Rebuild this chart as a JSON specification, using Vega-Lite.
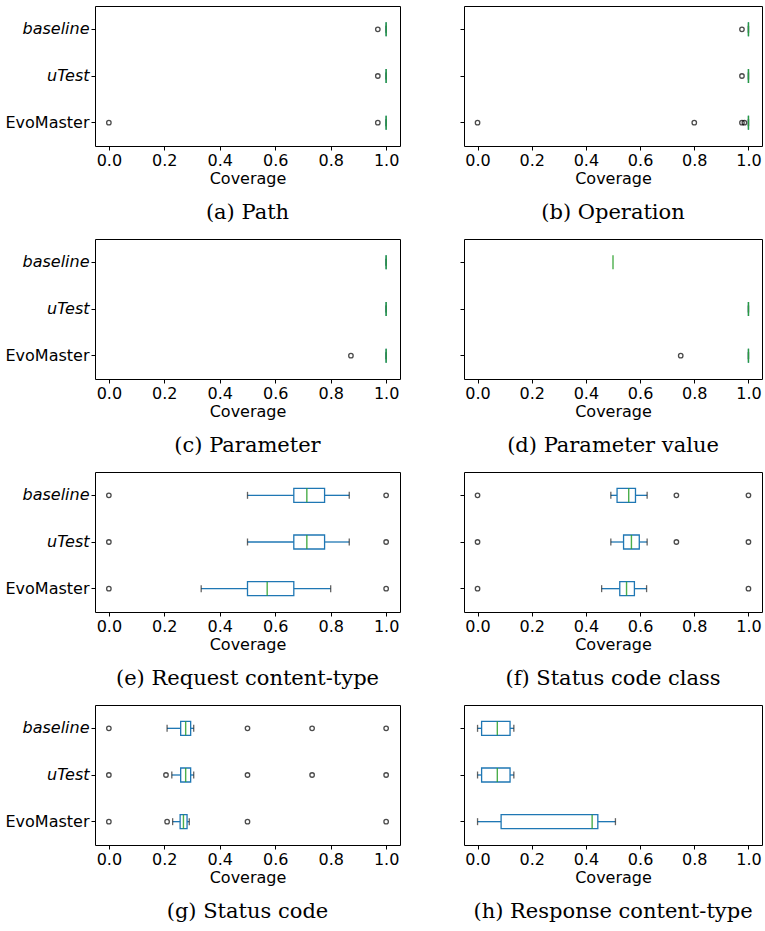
{
  "$schema": "https://vega.github.io/schema/vega-lite/v6.json",
  "padding": {"top": 5, "left": 4, "right": 0, "bottom": 0},
  "background": "white",
  "data": {"values": [
    {"p":"a","cat":"baseline","k":"box","lo":1,"q1":1,"med":1,"q3":1,"hi":1},
    {"p":"a","cat":"uTest","k":"box","lo":1,"q1":1,"med":1,"q3":1,"hi":1},
    {"p":"a","cat":"EvoMaster","k":"box","lo":1,"q1":1,"med":1,"q3":1,"hi":1},
    {"p":"a","cat":"baseline","k":"out","v":0.97},
    {"p":"a","cat":"uTest","k":"out","v":0.97},
    {"p":"a","cat":"EvoMaster","k":"out","v":0.0},
    {"p":"a","cat":"EvoMaster","k":"out","v":0.97},

    {"p":"b","cat":"baseline","k":"box","lo":1,"q1":1,"med":1,"q3":1,"hi":1},
    {"p":"b","cat":"uTest","k":"box","lo":1,"q1":1,"med":1,"q3":1,"hi":1},
    {"p":"b","cat":"EvoMaster","k":"box","lo":1,"q1":1,"med":1,"q3":1,"hi":1},
    {"p":"b","cat":"baseline","k":"out","v":0.976},
    {"p":"b","cat":"uTest","k":"out","v":0.976},
    {"p":"b","cat":"EvoMaster","k":"out","v":0.0},
    {"p":"b","cat":"EvoMaster","k":"out","v":0.8},
    {"p":"b","cat":"EvoMaster","k":"out","v":0.976},
    {"p":"b","cat":"EvoMaster","k":"out","v":0.985},

    {"p":"c","cat":"baseline","k":"box","lo":1,"q1":1,"med":1,"q3":1,"hi":1},
    {"p":"c","cat":"uTest","k":"box","lo":1,"q1":1,"med":1,"q3":1,"hi":1},
    {"p":"c","cat":"EvoMaster","k":"box","lo":1,"q1":1,"med":1,"q3":1,"hi":1},
    {"p":"c","cat":"EvoMaster","k":"out","v":0.873},

    {"p":"d","cat":"baseline","k":"box","lo":null,"q1":null,"med":0.5,"q3":null,"hi":null},
    {"p":"d","cat":"uTest","k":"box","lo":1,"q1":1,"med":1,"q3":1,"hi":1},
    {"p":"d","cat":"EvoMaster","k":"box","lo":1,"q1":1,"med":1,"q3":1,"hi":1},
    {"p":"d","cat":"EvoMaster","k":"out","v":0.75},

    {"p":"e","cat":"baseline","k":"box","lo":0.5,"q1":0.667,"med":0.714,"q3":0.778,"hi":0.867},
    {"p":"e","cat":"uTest","k":"box","lo":0.5,"q1":0.667,"med":0.714,"q3":0.778,"hi":0.867},
    {"p":"e","cat":"EvoMaster","k":"box","lo":0.333,"q1":0.5,"med":0.571,"q3":0.667,"hi":0.8},
    {"p":"e","cat":"baseline","k":"out","v":0.0},
    {"p":"e","cat":"baseline","k":"out","v":1.0},
    {"p":"e","cat":"uTest","k":"out","v":0.0},
    {"p":"e","cat":"uTest","k":"out","v":1.0},
    {"p":"e","cat":"EvoMaster","k":"out","v":0.0},
    {"p":"e","cat":"EvoMaster","k":"out","v":1.0},

    {"p":"f","cat":"baseline","k":"box","lo":0.492,"q1":0.515,"med":0.558,"q3":0.583,"hi":0.626},
    {"p":"f","cat":"uTest","k":"box","lo":0.492,"q1":0.539,"med":0.568,"q3":0.597,"hi":0.626},
    {"p":"f","cat":"EvoMaster","k":"box","lo":0.458,"q1":0.525,"med":0.55,"q3":0.579,"hi":0.624},
    {"p":"f","cat":"baseline","k":"out","v":0.0},
    {"p":"f","cat":"baseline","k":"out","v":0.734},
    {"p":"f","cat":"baseline","k":"out","v":1.0},
    {"p":"f","cat":"uTest","k":"out","v":0.0},
    {"p":"f","cat":"uTest","k":"out","v":0.734},
    {"p":"f","cat":"uTest","k":"out","v":1.0},
    {"p":"f","cat":"EvoMaster","k":"out","v":0.0},
    {"p":"f","cat":"EvoMaster","k":"out","v":1.0},

    {"p":"g","cat":"baseline","k":"box","lo":0.21,"q1":0.259,"med":0.277,"q3":0.295,"hi":0.306},
    {"p":"g","cat":"uTest","k":"box","lo":0.227,"q1":0.259,"med":0.277,"q3":0.295,"hi":0.306},
    {"p":"g","cat":"EvoMaster","k":"box","lo":0.23,"q1":0.257,"med":0.269,"q3":0.282,"hi":0.29},
    {"p":"g","cat":"baseline","k":"out","v":0.0},
    {"p":"g","cat":"baseline","k":"out","v":0.5},
    {"p":"g","cat":"baseline","k":"out","v":0.733},
    {"p":"g","cat":"baseline","k":"out","v":1.0},
    {"p":"g","cat":"uTest","k":"out","v":0.0},
    {"p":"g","cat":"uTest","k":"out","v":0.206},
    {"p":"g","cat":"uTest","k":"out","v":0.5},
    {"p":"g","cat":"uTest","k":"out","v":0.733},
    {"p":"g","cat":"uTest","k":"out","v":1.0},
    {"p":"g","cat":"EvoMaster","k":"out","v":0.0},
    {"p":"g","cat":"EvoMaster","k":"out","v":0.21},
    {"p":"g","cat":"EvoMaster","k":"out","v":0.5},
    {"p":"g","cat":"EvoMaster","k":"out","v":1.0},

    {"p":"h","cat":"baseline","k":"box","lo":0.0,"q1":0.015,"med":0.073,"q3":0.12,"hi":0.134},
    {"p":"h","cat":"uTest","k":"box","lo":0.0,"q1":0.015,"med":0.073,"q3":0.12,"hi":0.134},
    {"p":"h","cat":"EvoMaster","k":"box","lo":0.0,"q1":0.087,"med":0.423,"q3":0.444,"hi":0.509}
  ]},
  "columns": 2,
  "align": "each",
  "spacing": {"row": 14, "column": 58},
  "concat": [
    {"title": {"text": "(a) Path"}, "width": 305, "height": 140,
     "transform": [{"filter": "datum.p === 'a'"}],
     "encoding": {"y": {"field": "cat", "type": "nominal", "sort": ["baseline","uTest","EvoMaster"], "scale": {"paddingInner": 0, "paddingOuter": 0}, "axis": {"title": null, "labelFontStyle": {"condition": {"test": "datum.value !== 'EvoMaster'", "value": "italic"}, "value": "normal"}}}},
     "layer": [
      {"transform":[{"filter":"datum.k==='box'"}],"mark":{"type":"rule","color":"#1f77b4","strokeWidth":1.3},"encoding":{"x":{"field":"lo","type":"quantitative","scale":{"domain":[-0.05,1.05],"nice":false,"zero":false},"axis":{"values":[0,0.2,0.4,0.6,0.8,1],"format":".1f","title":"Coverage"}},"x2":{"field":"q1"}}},
      {"transform":[{"filter":"datum.k==='box'"}],"mark":{"type":"rule","color":"#1f77b4","strokeWidth":1.3},"encoding":{"x":{"field":"q3","type":"quantitative"},"x2":{"field":"hi"}}},
      {"transform":[{"filter":"datum.k==='box'"}],"mark":{"type":"tick","color":"#222","size":7,"thickness":1.3},"encoding":{"x":{"field":"lo","type":"quantitative"}}},
      {"transform":[{"filter":"datum.k==='box'"}],"mark":{"type":"tick","color":"#222","size":7,"thickness":1.3},"encoding":{"x":{"field":"hi","type":"quantitative"}}},
      {"transform":[{"filter":"datum.k==='box'"}],"mark":{"type":"bar","fill":"transparent","stroke":"#1f77b4","strokeWidth":1.3,"size":14},"encoding":{"x":{"field":"q1","type":"quantitative"},"x2":{"field":"q3"}}},
      {"transform":[{"filter":"datum.k==='box'"}],"mark":{"type":"tick","color":"#2ca02c","size":14,"thickness":1.4,"opacity":0.85},"encoding":{"x":{"field":"med","type":"quantitative"}}},
      {"transform":[{"filter":"datum.k==='out'"}],"mark":{"type":"point","filled":false,"stroke":"black","strokeWidth":1.3,"size":20},"encoding":{"x":{"field":"v","type":"quantitative"}}}
     ]},
    {"title": {"text": "(b) Operation"}, "width": 298, "height": 140,
     "transform": [{"filter": "datum.p === 'b'"}],
     "encoding": {"y": {"field": "cat", "type": "nominal", "sort": ["baseline","uTest","EvoMaster"], "scale": {"paddingInner": 0, "paddingOuter": 0}, "axis": {"title": null, "labels": false}}},
     "layer": [
      {"transform":[{"filter":"datum.k==='box'"}],"mark":{"type":"rule","color":"#1f77b4","strokeWidth":1.3},"encoding":{"x":{"field":"lo","type":"quantitative","scale":{"domain":[-0.05,1.05],"nice":false,"zero":false},"axis":{"values":[0,0.2,0.4,0.6,0.8,1],"format":".1f","title":"Coverage"}},"x2":{"field":"q1"}}},
      {"transform":[{"filter":"datum.k==='box'"}],"mark":{"type":"rule","color":"#1f77b4","strokeWidth":1.3},"encoding":{"x":{"field":"q3","type":"quantitative"},"x2":{"field":"hi"}}},
      {"transform":[{"filter":"datum.k==='box'"}],"mark":{"type":"tick","color":"#222","size":7,"thickness":1.3},"encoding":{"x":{"field":"lo","type":"quantitative"}}},
      {"transform":[{"filter":"datum.k==='box'"}],"mark":{"type":"tick","color":"#222","size":7,"thickness":1.3},"encoding":{"x":{"field":"hi","type":"quantitative"}}},
      {"transform":[{"filter":"datum.k==='box'"}],"mark":{"type":"bar","fill":"transparent","stroke":"#1f77b4","strokeWidth":1.3,"size":14},"encoding":{"x":{"field":"q1","type":"quantitative"},"x2":{"field":"q3"}}},
      {"transform":[{"filter":"datum.k==='box'"}],"mark":{"type":"tick","color":"#2ca02c","size":14,"thickness":1.4,"opacity":0.85},"encoding":{"x":{"field":"med","type":"quantitative"}}},
      {"transform":[{"filter":"datum.k==='out'"}],"mark":{"type":"point","filled":false,"stroke":"black","strokeWidth":1.3,"size":20},"encoding":{"x":{"field":"v","type":"quantitative"}}}
     ]},
    {"title": {"text": "(c) Parameter"}, "width": 305, "height": 140,
     "transform": [{"filter": "datum.p === 'c'"}],
     "encoding": {"y": {"field": "cat", "type": "nominal", "sort": ["baseline","uTest","EvoMaster"], "scale": {"paddingInner": 0, "paddingOuter": 0}, "axis": {"title": null, "labelFontStyle": {"condition": {"test": "datum.value !== 'EvoMaster'", "value": "italic"}, "value": "normal"}}}},
     "layer": [
      {"transform":[{"filter":"datum.k==='box'"}],"mark":{"type":"rule","color":"#1f77b4","strokeWidth":1.3},"encoding":{"x":{"field":"lo","type":"quantitative","scale":{"domain":[-0.05,1.05],"nice":false,"zero":false},"axis":{"values":[0,0.2,0.4,0.6,0.8,1],"format":".1f","title":"Coverage"}},"x2":{"field":"q1"}}},
      {"transform":[{"filter":"datum.k==='box'"}],"mark":{"type":"rule","color":"#1f77b4","strokeWidth":1.3},"encoding":{"x":{"field":"q3","type":"quantitative"},"x2":{"field":"hi"}}},
      {"transform":[{"filter":"datum.k==='box'"}],"mark":{"type":"tick","color":"#222","size":7,"thickness":1.3},"encoding":{"x":{"field":"lo","type":"quantitative"}}},
      {"transform":[{"filter":"datum.k==='box'"}],"mark":{"type":"tick","color":"#222","size":7,"thickness":1.3},"encoding":{"x":{"field":"hi","type":"quantitative"}}},
      {"transform":[{"filter":"datum.k==='box'"}],"mark":{"type":"bar","fill":"transparent","stroke":"#1f77b4","strokeWidth":1.3,"size":14},"encoding":{"x":{"field":"q1","type":"quantitative"},"x2":{"field":"q3"}}},
      {"transform":[{"filter":"datum.k==='box'"}],"mark":{"type":"tick","color":"#2ca02c","size":14,"thickness":1.4,"opacity":0.85},"encoding":{"x":{"field":"med","type":"quantitative"}}},
      {"transform":[{"filter":"datum.k==='out'"}],"mark":{"type":"point","filled":false,"stroke":"black","strokeWidth":1.3,"size":20},"encoding":{"x":{"field":"v","type":"quantitative"}}}
     ]},
    {"title": {"text": "(d) Parameter value"}, "width": 298, "height": 140,
     "transform": [{"filter": "datum.p === 'd'"}],
     "encoding": {"y": {"field": "cat", "type": "nominal", "sort": ["baseline","uTest","EvoMaster"], "scale": {"domain": ["baseline","uTest","EvoMaster"], "paddingInner": 0, "paddingOuter": 0}, "axis": {"title": null, "labels": false}}},
     "layer": [
      {"transform":[{"filter":"datum.k==='box'"}],"mark":{"type":"rule","color":"#1f77b4","strokeWidth":1.3},"encoding":{"x":{"field":"lo","type":"quantitative","scale":{"domain":[-0.05,1.05],"nice":false,"zero":false},"axis":{"values":[0,0.2,0.4,0.6,0.8,1],"format":".1f","title":"Coverage"}},"x2":{"field":"q1"}}},
      {"transform":[{"filter":"datum.k==='box'"}],"mark":{"type":"rule","color":"#1f77b4","strokeWidth":1.3},"encoding":{"x":{"field":"q3","type":"quantitative"},"x2":{"field":"hi"}}},
      {"transform":[{"filter":"datum.k==='box'"}],"mark":{"type":"tick","color":"#222","size":7,"thickness":1.3},"encoding":{"x":{"field":"lo","type":"quantitative"}}},
      {"transform":[{"filter":"datum.k==='box'"}],"mark":{"type":"tick","color":"#222","size":7,"thickness":1.3},"encoding":{"x":{"field":"hi","type":"quantitative"}}},
      {"transform":[{"filter":"datum.k==='box'"}],"mark":{"type":"bar","fill":"transparent","stroke":"#1f77b4","strokeWidth":1.3,"size":14},"encoding":{"x":{"field":"q1","type":"quantitative"},"x2":{"field":"q3"}}},
      {"transform":[{"filter":"datum.k==='box'"}],"mark":{"type":"tick","color":"#2ca02c","size":14,"thickness":1.4,"opacity":0.85},"encoding":{"x":{"field":"med","type":"quantitative"}}},
      {"transform":[{"filter":"datum.k==='out'"}],"mark":{"type":"point","filled":false,"stroke":"black","strokeWidth":1.3,"size":20},"encoding":{"x":{"field":"v","type":"quantitative"}}}
     ]},
    {"title": {"text": "(e) Request content-type"}, "width": 305, "height": 140,
     "transform": [{"filter": "datum.p === 'e'"}],
     "encoding": {"y": {"field": "cat", "type": "nominal", "sort": ["baseline","uTest","EvoMaster"], "scale": {"paddingInner": 0, "paddingOuter": 0}, "axis": {"title": null, "labelFontStyle": {"condition": {"test": "datum.value !== 'EvoMaster'", "value": "italic"}, "value": "normal"}}}},
     "layer": [
      {"transform":[{"filter":"datum.k==='box'"}],"mark":{"type":"rule","color":"#1f77b4","strokeWidth":1.3},"encoding":{"x":{"field":"lo","type":"quantitative","scale":{"domain":[-0.05,1.05],"nice":false,"zero":false},"axis":{"values":[0,0.2,0.4,0.6,0.8,1],"format":".1f","title":"Coverage"}},"x2":{"field":"q1"}}},
      {"transform":[{"filter":"datum.k==='box'"}],"mark":{"type":"rule","color":"#1f77b4","strokeWidth":1.3},"encoding":{"x":{"field":"q3","type":"quantitative"},"x2":{"field":"hi"}}},
      {"transform":[{"filter":"datum.k==='box'"}],"mark":{"type":"tick","color":"#222","size":7,"thickness":1.3},"encoding":{"x":{"field":"lo","type":"quantitative"}}},
      {"transform":[{"filter":"datum.k==='box'"}],"mark":{"type":"tick","color":"#222","size":7,"thickness":1.3},"encoding":{"x":{"field":"hi","type":"quantitative"}}},
      {"transform":[{"filter":"datum.k==='box'"}],"mark":{"type":"bar","fill":"transparent","stroke":"#1f77b4","strokeWidth":1.3,"size":14},"encoding":{"x":{"field":"q1","type":"quantitative"},"x2":{"field":"q3"}}},
      {"transform":[{"filter":"datum.k==='box'"}],"mark":{"type":"tick","color":"#2ca02c","size":14,"thickness":1.4,"opacity":0.85},"encoding":{"x":{"field":"med","type":"quantitative"}}},
      {"transform":[{"filter":"datum.k==='out'"}],"mark":{"type":"point","filled":false,"stroke":"black","strokeWidth":1.3,"size":20},"encoding":{"x":{"field":"v","type":"quantitative"}}}
     ]},
    {"title": {"text": "(f) Status code class"}, "width": 298, "height": 140,
     "transform": [{"filter": "datum.p === 'f'"}],
     "encoding": {"y": {"field": "cat", "type": "nominal", "sort": ["baseline","uTest","EvoMaster"], "scale": {"paddingInner": 0, "paddingOuter": 0}, "axis": {"title": null, "labels": false}}},
     "layer": [
      {"transform":[{"filter":"datum.k==='box'"}],"mark":{"type":"rule","color":"#1f77b4","strokeWidth":1.3},"encoding":{"x":{"field":"lo","type":"quantitative","scale":{"domain":[-0.05,1.05],"nice":false,"zero":false},"axis":{"values":[0,0.2,0.4,0.6,0.8,1],"format":".1f","title":"Coverage"}},"x2":{"field":"q1"}}},
      {"transform":[{"filter":"datum.k==='box'"}],"mark":{"type":"rule","color":"#1f77b4","strokeWidth":1.3},"encoding":{"x":{"field":"q3","type":"quantitative"},"x2":{"field":"hi"}}},
      {"transform":[{"filter":"datum.k==='box'"}],"mark":{"type":"tick","color":"#222","size":7,"thickness":1.3},"encoding":{"x":{"field":"lo","type":"quantitative"}}},
      {"transform":[{"filter":"datum.k==='box'"}],"mark":{"type":"tick","color":"#222","size":7,"thickness":1.3},"encoding":{"x":{"field":"hi","type":"quantitative"}}},
      {"transform":[{"filter":"datum.k==='box'"}],"mark":{"type":"bar","fill":"transparent","stroke":"#1f77b4","strokeWidth":1.3,"size":14},"encoding":{"x":{"field":"q1","type":"quantitative"},"x2":{"field":"q3"}}},
      {"transform":[{"filter":"datum.k==='box'"}],"mark":{"type":"tick","color":"#2ca02c","size":14,"thickness":1.4,"opacity":0.85},"encoding":{"x":{"field":"med","type":"quantitative"}}},
      {"transform":[{"filter":"datum.k==='out'"}],"mark":{"type":"point","filled":false,"stroke":"black","strokeWidth":1.3,"size":20},"encoding":{"x":{"field":"v","type":"quantitative"}}}
     ]},
    {"title": {"text": "(g) Status code"}, "width": 305, "height": 140,
     "transform": [{"filter": "datum.p === 'g'"}],
     "encoding": {"y": {"field": "cat", "type": "nominal", "sort": ["baseline","uTest","EvoMaster"], "scale": {"paddingInner": 0, "paddingOuter": 0}, "axis": {"title": null, "labelFontStyle": {"condition": {"test": "datum.value !== 'EvoMaster'", "value": "italic"}, "value": "normal"}}}},
     "layer": [
      {"transform":[{"filter":"datum.k==='box'"}],"mark":{"type":"rule","color":"#1f77b4","strokeWidth":1.3},"encoding":{"x":{"field":"lo","type":"quantitative","scale":{"domain":[-0.05,1.05],"nice":false,"zero":false},"axis":{"values":[0,0.2,0.4,0.6,0.8,1],"format":".1f","title":"Coverage"}},"x2":{"field":"q1"}}},
      {"transform":[{"filter":"datum.k==='box'"}],"mark":{"type":"rule","color":"#1f77b4","strokeWidth":1.3},"encoding":{"x":{"field":"q3","type":"quantitative"},"x2":{"field":"hi"}}},
      {"transform":[{"filter":"datum.k==='box'"}],"mark":{"type":"tick","color":"#222","size":7,"thickness":1.3},"encoding":{"x":{"field":"lo","type":"quantitative"}}},
      {"transform":[{"filter":"datum.k==='box'"}],"mark":{"type":"tick","color":"#222","size":7,"thickness":1.3},"encoding":{"x":{"field":"hi","type":"quantitative"}}},
      {"transform":[{"filter":"datum.k==='box'"}],"mark":{"type":"bar","fill":"transparent","stroke":"#1f77b4","strokeWidth":1.3,"size":14},"encoding":{"x":{"field":"q1","type":"quantitative"},"x2":{"field":"q3"}}},
      {"transform":[{"filter":"datum.k==='box'"}],"mark":{"type":"tick","color":"#2ca02c","size":14,"thickness":1.4,"opacity":0.85},"encoding":{"x":{"field":"med","type":"quantitative"}}},
      {"transform":[{"filter":"datum.k==='out'"}],"mark":{"type":"point","filled":false,"stroke":"black","strokeWidth":1.3,"size":20},"encoding":{"x":{"field":"v","type":"quantitative"}}}
     ]},
    {"title": {"text": "(h) Response content-type"}, "width": 298, "height": 140,
     "transform": [{"filter": "datum.p === 'h'"}],
     "encoding": {"y": {"field": "cat", "type": "nominal", "sort": ["baseline","uTest","EvoMaster"], "scale": {"paddingInner": 0, "paddingOuter": 0}, "axis": {"title": null, "labels": false}}},
     "layer": [
      {"transform":[{"filter":"datum.k==='box'"}],"mark":{"type":"rule","color":"#1f77b4","strokeWidth":1.3},"encoding":{"x":{"field":"lo","type":"quantitative","scale":{"domain":[-0.05,1.05],"nice":false,"zero":false},"axis":{"values":[0,0.2,0.4,0.6,0.8,1],"format":".1f","title":"Coverage"}},"x2":{"field":"q1"}}},
      {"transform":[{"filter":"datum.k==='box'"}],"mark":{"type":"rule","color":"#1f77b4","strokeWidth":1.3},"encoding":{"x":{"field":"q3","type":"quantitative"},"x2":{"field":"hi"}}},
      {"transform":[{"filter":"datum.k==='box'"}],"mark":{"type":"tick","color":"#222","size":7,"thickness":1.3},"encoding":{"x":{"field":"lo","type":"quantitative"}}},
      {"transform":[{"filter":"datum.k==='box'"}],"mark":{"type":"tick","color":"#222","size":7,"thickness":1.3},"encoding":{"x":{"field":"hi","type":"quantitative"}}},
      {"transform":[{"filter":"datum.k==='box'"}],"mark":{"type":"bar","fill":"transparent","stroke":"#1f77b4","strokeWidth":1.3,"size":14},"encoding":{"x":{"field":"q1","type":"quantitative"},"x2":{"field":"q3"}}},
      {"transform":[{"filter":"datum.k==='box'"}],"mark":{"type":"tick","color":"#2ca02c","size":14,"thickness":1.4,"opacity":0.85},"encoding":{"x":{"field":"med","type":"quantitative"}}},
      {"transform":[{"filter":"datum.k==='out'"}],"mark":{"type":"point","filled":false,"stroke":"black","strokeWidth":1.3,"size":20},"encoding":{"x":{"field":"v","type":"quantitative"}}}
     ]}
  ],
  "config": {
    "view": {"stroke": "black", "strokeWidth": 1},
    "axis": {"labelFont": "DejaVu Sans", "labelFontSize": 16, "labelColor": "black", "titleFont": "DejaVu Sans", "titleFontSize": 16, "titleFontWeight": "normal", "titleColor": "black", "tickColor": "black", "tickSize": 4, "domain": false, "grid": false, "labelPadding": 2, "titlePadding": 2},
    "title": {"orient": "bottom", "anchor": "middle", "font": "DejaVu Serif", "fontSize": 21, "fontWeight": "normal", "color": "black", "offset": 16}
  }
}
